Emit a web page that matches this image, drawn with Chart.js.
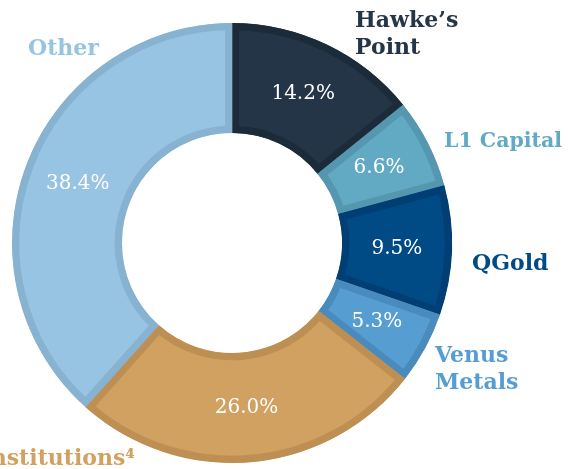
<!DOCTYPE html>
<html>
<head>
<meta charset="utf-8">
<script src="https://cdn.jsdelivr.net/npm/chart.js@4.4.1/dist/chart.umd.min.js"></script>
<style>
    html, body { margin: 0; padding: 0; background: #ffffff; }
    #wrap { width: 568px; height: 469px; }
</style>
</head>
<body>
<div id="wrap"><canvas id="shareChart"></canvas></div>
<script>
// Shareholder split (%), clockwise from 12 o'clock
const holders = ['Hawke’s Point', 'L1 Capital', 'QGold', 'Venus Metals', 'Institutions⁴', 'Other'];
const shares = [14.2, 6.6, 9.5, 5.3, 26.0, 38.4];

const fillColours = ['#233546', '#62aac3', '#004a86', '#569dd2', '#d0a160', '#97c4e3'];
const edgeColours = ['#1c2b3a', '#5497ae', '#003e73', '#4a8bbd', '#be8f53', '#87b2d0'];

// where the name of each holder sits (text anchor, alignment, font size)
const namePlacement = [
    { x: 355, y: 27, align: 'left', size: 22, lines: ['Hawke’s', 'Point'] },
    { x: 444, y: 147, align: 'left', size: 20.5, lines: ['L1 Capital'] },
    { x: 472, y: 270, align: 'left', size: 22, lines: ['QGold'] },
    { x: 435, y: 362, align: 'left', size: 22, lines: ['Venus', 'Metals'] },
    { x: 135, y: 465, align: 'right', size: 22, lines: ['Institutions⁴'] },
    { x: 28, y: 55, align: 'left', size: 22, lines: ['Other'] }
];

const labelPlugin = {
    id: 'ringLabels',
    afterDatasetsDraw(chart) {
        const ctx = chart.ctx;
        const meta = chart.getDatasetMeta(0);
        ctx.save();

        // percentages in the middle of each ring segment
        ctx.fillStyle = '#ffffff';
        ctx.font = '20px "DejaVu Serif"';
        ctx.textAlign = 'center';
        ctx.textBaseline = 'middle';
        meta.data.forEach((arc, i) => {
            const p = arc.tooltipPosition();
            ctx.fillText(shares[i].toFixed(1) + '%', p.x, p.y);
        });

        // holder names outside the ring
        ctx.textBaseline = 'alphabetic';
        namePlacement.forEach((n, i) => {
            ctx.font = 'bold ' + n.size + 'px "DejaVu Serif"';
            ctx.fillStyle = fillColours[i];
            ctx.textAlign = n.align;
            n.lines.forEach((line, k) => {
                ctx.fillText(line, n.x, n.y + k * 27);
            });
        });
        ctx.restore();
    }
};

new Chart(document.getElementById('shareChart'), {
    type: 'doughnut',
    data: {
        labels: holders,
        datasets: [{
            data: shares,
            backgroundColor: fillColours,
            borderColor: edgeColours,
            borderWidth: 7,
            borderAlign: 'inner',
            borderJoinStyle: 'miter',
            hoverOffset: 0
        }]
    },
    options: {
        responsive: true,
        maintainAspectRatio: false,
        animation: false,
        cutout: '50%',
        layout: {
            padding: { left: 0, right: 104, top: 23, bottom: 6 }
        },
        plugins: {
            legend: { display: false },
            tooltip: { enabled: false }
        }
    },
    plugins: [labelPlugin]
});
</script>
</body>
</html>
